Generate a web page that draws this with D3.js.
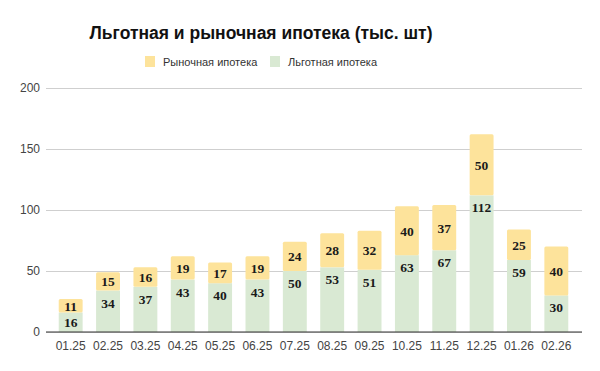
<!DOCTYPE html>
<html>
<head>
<meta charset="utf-8">
<script src="https://cdn.jsdelivr.net/npm/d3@7"></script>
<style>
  body { margin: 0; background: #fff; }
  svg { display: block; font-family: Arial, "Liberation Sans", sans-serif; }
</style>
</head>
<body>
<svg id="chart" width="600" height="371"></svg>
<script>
// данные
const months = ["01.25","02.25","03.25","04.25","05.25","06.25","07.25","08.25","09.25","10.25","11.25","12.25","01.26","02.26"];
const lgot = [16, 34, 37, 43, 40, 43, 50, 53, 51, 63, 67, 112, 59, 30];
const rynok = [11, 15, 16, 19, 17, 19, 24, 28, 32, 40, 37, 50, 25, 40];
const yTicks = [0, 50, 100, 150, 200];

const svg = d3.select("#chart");
const green = "#d9e9d3", yellow = "#fde39b";

const x = d3.scaleBand()
  .domain(months)
  .range([52, 575])
  .paddingInner(0.36)
  .paddingOuter(0.18);

const y = d3.scaleLinear().domain([0, 200]).range([332, 88]);

// заголовок
svg.append("text")
  .attr("x", 261).attr("y", 39)
  .attr("text-anchor", "middle")
  .style("font-size", "17.5px").style("font-weight", "bold").style("fill", "#111")
  .text("Льготная и рыночная ипотека (тыс. шт)");

// легенда
const legend = [
  { name: "Рыночная ипотека", color: yellow, x: 145 },
  { name: "Льготная ипотека", color: green, x: 270 }
];
legend.forEach(l => {
  svg.append("rect").attr("x", l.x).attr("y", 56).attr("width", 10).attr("height", 11)
    .attr("fill", l.color);
  svg.append("text").attr("x", l.x + 18).attr("y", 66)
    .style("font-size", "11px").style("fill", "#333").text(l.name);
});

// сетка
svg.append("g")
  .attr("transform", "translate(46,0)")
  .call(d3.axisLeft(y).tickValues(yTicks).tickSize(-536).tickFormat(""))
  .call(g => g.select(".domain").remove())
  .selectAll(".tick line").attr("stroke", "#cfcfcf");

// подписи оси Y
svg.append("g")
  .selectAll("text")
  .data(yTicks)
  .enter()
  .append("text")
  .attr("x", 40).attr("y", d => y(d) + 4)
  .attr("text-anchor", "end")
  .style("font-size", "12px").style("fill", "#444")
  .text(d => d);

// столбцы
const bw = x.bandwidth();
svg.selectAll("rect.lg")
  .data(months)
  .enter()
  .append("rect")
  .attr("class", "lg")
  .attr("x", d => x(d))
  .attr("y", (d, i) => y(lgot[i]))
  .attr("width", bw)
  .attr("height", (d, i) => y(0) - y(lgot[i]))
  .attr("fill", green);

svg.selectAll("rect.ry")
  .data(months)
  .enter()
  .append("rect")
  .attr("class", "ry")
  .attr("x", d => x(d))
  .attr("y", (d, i) => y(lgot[i] + rynok[i]))
  .attr("width", bw)
  .attr("height", (d, i) => y(lgot[i]) - y(lgot[i] + rynok[i]))
  .attr("rx", 1.5)
  .attr("fill", yellow);

// подписи значений
const lblStyle = sel => sel
  .attr("text-anchor", "middle")
  .style("font-family", "'Liberation Serif', 'DejaVu Serif', serif")
  .style("font-weight", "bold").style("font-size", "13.5px").style("fill", "#1a1a1a");

svg.selectAll("text.lgv")
  .data(months)
  .enter()
  .append("text")
  .attr("class", "lgv")
  .attr("x", d => x(d) + bw / 2)
  .attr("y", (d, i) => Math.min(y(lgot[i]) + 17, (y(lgot[i]) + y(0)) / 2 + 5))
  .call(lblStyle)
  .text((d, i) => lgot[i]);

svg.selectAll("text.ryv")
  .data(months)
  .enter()
  .append("text")
  .attr("class", "ryv")
  .attr("x", d => x(d) + bw / 2)
  .attr("y", (d, i) => (y(lgot[i]) + y(lgot[i] + rynok[i])) / 2 + 5)
  .call(lblStyle)
  .text((d, i) => rynok[i]);

// ось X
svg.append("line")
  .attr("x1", 46).attr("x2", 582)
  .attr("y1", y(0)).attr("y2", y(0))
  .attr("stroke", "#333").attr("stroke-width", 1);

svg.append("g")
  .selectAll("text")
  .data(months)
  .enter()
  .append("text")
  .attr("x", d => x(d) + bw / 2)
  .attr("y", 350)
  .attr("text-anchor", "middle")
  .style("font-size", "12px").style("fill", "#444")
  .text(d => d);
</script>
</body>
</html>
